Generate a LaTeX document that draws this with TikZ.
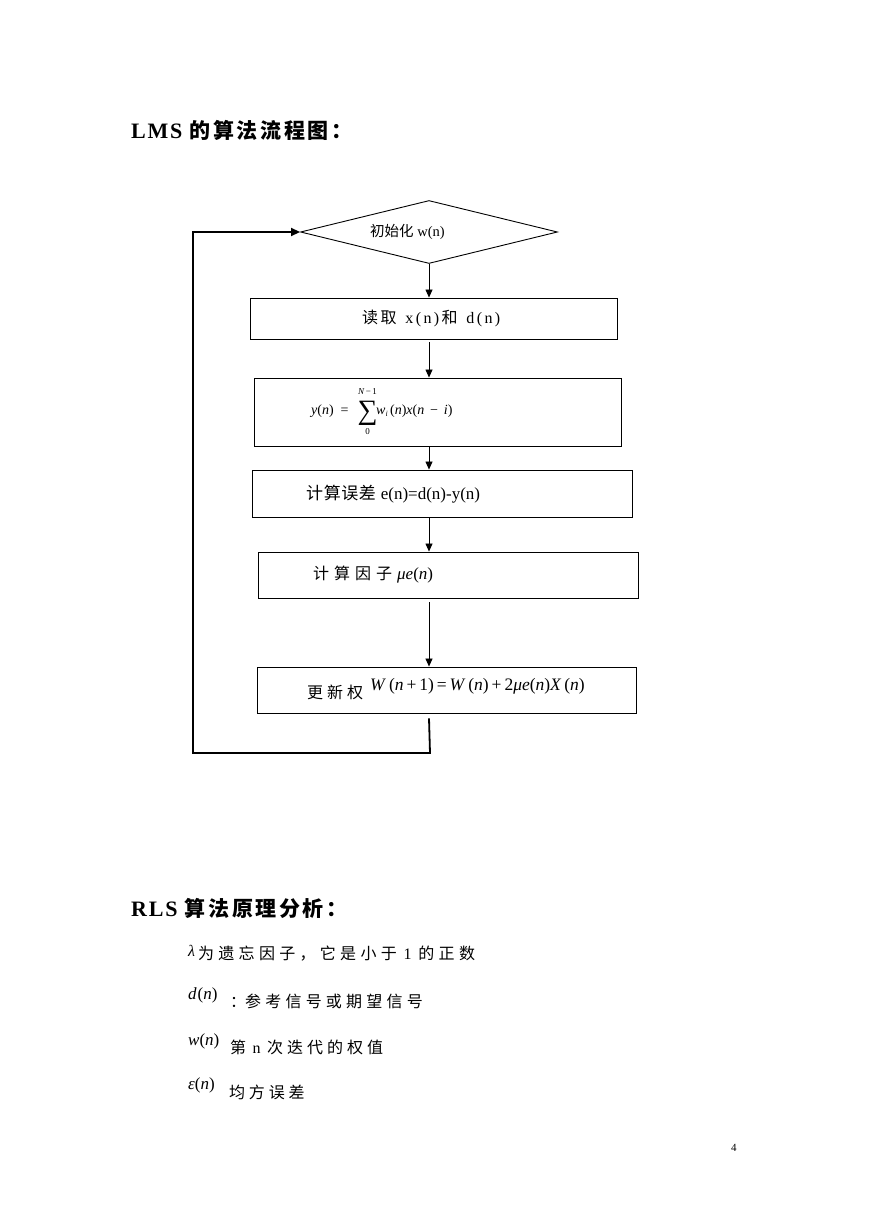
\documentclass[tikz,border=0pt]{standalone}
\usepackage{fontspec}
\setmainfont{Liberation Serif}
\newfontfamily\cjk{Noto Sans CJK SC}
\usetikzlibrary{shapes.geometric,arrows.meta}
\newlength\lsgap
\makeatletter
\def\ls#1#2{\setlength\lsgap{#1}\ls@loop#2\relax}
\def\ls@loop#1{\ifx\relax#1\else#1\hspace{\lsgap}\expandafter\ls@loop\fi}
\makeatother
\newcommand\Cj[2]{{\cjk\ls{#1}{#2}}}
\newcommand\fs[1]{\fontsize{#1}{#1}\selectfont}
\begin{document}
\begin{tikzpicture}[x=1pt,y=-1pt,
  flowbox/.style={draw, line width=0.9pt, inner sep=0pt},
  arr/.style={line width=0.7pt, -{Triangle[length=8pt,width=7pt]}},
  loopline/.style={line width=1.8pt, line join=miter, -{Triangle[length=9pt,width=8pt]}},
  lbl/.style={anchor=west, inner sep=0pt},
  mid/.style={anchor=center, inner sep=0pt}]
\useasboundingbox (0,0) rectangle (869,1228);
\fill[white] (0,0) rectangle (869,1228);

% title
\node[lbl] (title1) at (131,130) {\bfseries\fs{22pt}\ls{1.8pt}{LMS}\ {\cjk\fs{21pt}\bfseries\ls{2.6pt}{的算法流程图：}}};

% flow nodes
\node[flowbox, diamond, minimum width=257pt, minimum height=63pt] (d) at (429,232) {};
\node[flowbox, minimum width=367pt, minimum height=41pt] (b1) at (433.5,318.5) {};
\node[flowbox, minimum width=367pt, minimum height=68pt] (b2) at (437.5,412) {};
\node[flowbox, minimum width=380pt, minimum height=47pt] (b3) at (442,493.5) {};
\node[flowbox, minimum width=380pt, minimum height=46pt] (b4) at (448,575) {};
\node[flowbox, minimum width=379pt, minimum height=46pt] (b5) at (446.5,690) {};

% texts in nodes
\node[lbl] (t0) at (370,232) {\fs{14.5pt}{\cjk 初始化}\ w(n)};
\node[lbl] (t1) at (362,318) {\fs{16pt}\Cj{2.4pt}{读取}\ls{2.4pt}{\ x(n)}\Cj{2.4pt}{和}\ls{2.4pt}{\ d(n)}};
\node[lbl, anchor=base west] (t2a) at (311,414) {\fs{14pt}\textit{y}(\textit{n})\ \ =};
\node[mid] (t2s) at (367.5,413) {\fs{28pt}∑};
\node[mid] (t2u) at (367.5,392) {\fs{9pt}\textit{N}\,−\,1};
\node[mid] (t2l) at (367.5,431.5) {\fs{9pt}0};
\node[lbl, anchor=base west] (t2b) at (376,414) {\fs{14pt}\textit{w}\raisebox{-2.5pt}{\fs{8pt}\textit{i}}\,(\textit{n})\textit{x}(\textit{n}\ \,−\ \,\textit{i})};
\node[lbl] (t3) at (306,494) {\fs{17pt}\Cj{0.6pt}{计算误差}\ e(n)=d(n)-y(n)};
\node[lbl] (t4) at (313,575) {\fs{16pt}\Cj{5pt}{计算因子}{\fs{17pt}\textit{μe}(\textit{n})}};
\node[lbl] (t5) at (307,692) {\fs{16pt}\Cj{4pt}{更新权}};
\node[lbl] (t5m) at (370,686) {\fs{17.5pt}\textit{W}\,(\textit{n}\,+\,1)\,=\,\textit{W}\,(\textit{n})\,+\,2\textit{μe}(\textit{n})\textit{X}\,(\textit{n})};

% connectors
\draw[arr] (d.south) -- (d.south |- b1.north);
\draw[arr] ([yshift=-3pt]d.south |- b1.south) -- (d.south |- b2.north);
\draw[arr] ([yshift=-1pt]d.south |- b2.south) -- (d.south |- b3.north);
\draw[arr] ([yshift=-1pt]d.south |- b3.south) -- (d.south |- b4.north);
\draw[arr] ([yshift=-4pt]d.south |- b4.south) -- (d.south |- b5.north);
\coordinate (lp1) at (430,753);
\coordinate (lp2) at (193,753);
\draw[loopline] ([yshift=-5pt]d.south |- b5.south) -- (lp1) -- (lp2) -- (lp2 |- d.west) -- (d.west);

% RLS section
\node[lbl] (title2) at (131,908) {\bfseries\fs{22pt}\ls{1.8pt}{RLS}\ {\cjk\fs{21pt}\bfseries\ls{2.6pt}{算法原理分析：}}};
\node[lbl] (r1) at (188,953) {\fs{16pt}\raisebox{3pt}{\textit{λ}}\hspace{3pt}\Cj{4.3pt}{为遗忘因子，它是小于}\hspace{2.5pt}\ls{4.3pt}{1}\hspace{2.5pt}\Cj{4.3pt}{的正数}};
\node[lbl] (r2a) at (188,995) {\fs{17pt}\textit{d}\hspace{1pt}(\textit{n})};
\node[lbl] (r2b) at (230,1001) {\fs{16pt}{\cjk ：}\hspace{-1pt}\Cj{4.2pt}{参考信号或期望信号}};
\node[lbl] (r3a) at (188,1041) {\fs{17pt}\textit{w}(\textit{n})};
\node[lbl] (r3b) at (230,1047) {\fs{16pt}\Cj{4pt}{第}\hspace{2.5pt}\ls{6.5pt}{n}\Cj{4pt}{次迭代的权值}};
\node[lbl] (r4a) at (188,1085) {\fs{17pt}\textit{ε}(\textit{n})};
\node[lbl] (r4b) at (229,1092) {\fs{16pt}\Cj{3.8pt}{均方误差}};

\node[lbl] (pg) at (731,1148) {\fs{11pt}4};
\end{tikzpicture}
\end{document}
